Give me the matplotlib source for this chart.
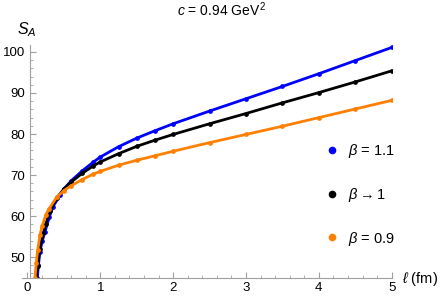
import matplotlib
matplotlib.use('agg')
import matplotlib.pyplot as plt
from matplotlib.lines import Line2D
from matplotlib.ticker import MultipleLocator

plt.rcParams['font.family'] = ['Liberation Sans', 'DejaVu Sans']
plt.rcParams['mathtext.fontset'] = 'custom'
plt.rcParams['mathtext.rm'] = 'Liberation Sans'
plt.rcParams['mathtext.it'] = 'Liberation Sans:italic'

# values (l in fm, S_A)
l_blue = [0.12, 0.135, 0.15, 0.17, 0.2, 0.24, 0.3, 0.35, 0.45, 0.5, 0.6,
          0.75, 0.9, 1.0, 1.25, 1.5, 1.75, 2.0, 2.5, 3.0, 3.5, 4.0, 4.5, 5.0]
s_blue = [41.0, 45.0, 48.0, 51.3, 53.8, 56.2, 59.8, 62.3, 65.2, 66.6, 68.6,
          71.0, 73.1, 74.4, 76.9, 79.0, 80.8, 82.5, 85.6, 88.6, 91.6, 94.7,
          97.9, 101.1]

l_black = [0.10, 0.117, 0.14, 0.17, 0.217, 0.25, 0.31, 0.4, 0.5, 0.6, 0.75,
           0.9, 1.0, 1.25, 1.5, 1.75, 2.0, 2.5, 3.0, 3.5, 4.0, 4.5, 5.0]
s_black = [41.0, 45.0, 47.9, 52.0, 55.8, 58.0, 61.3, 64.4, 66.6, 68.3, 70.4,
           72.2, 73.2, 75.2, 77.0, 78.5, 79.9, 82.5, 85.0, 87.6, 90.1, 92.7,
           95.4]

l_orange = [0.085, 0.103, 0.12, 0.14, 0.17, 0.2, 0.25, 0.29, 0.4, 0.5, 0.6,
            0.75, 0.9, 1.0, 1.25, 1.5, 1.75, 2.0, 2.5, 3.0, 3.5, 4.0, 4.5,
            5.0]
s_orange = [41.0, 45.0, 48.5, 51.7, 55.3, 57.5, 60.2, 61.6, 64.6, 66.2, 67.4,
            68.9, 70.2, 70.9, 72.4, 73.6, 74.7, 75.8, 77.9, 79.9, 81.9, 84.0,
            86.1, 88.2]

labels = [r'$\beta$ = 1.1', r'$\beta \rightarrow 1$', r'$\beta$ = 0.9']
colors = ['#0000ff', '#000000', '#ff8000']

fig = plt.figure(figsize=(4.47, 3.01), dpi=100)
# axes box in pixels: x 22..392, y 45..278 (from top)
ax = fig.add_axes([22 / 447, 23 / 301, 370 / 447, 233 / 301])
ax.set_xlim(-0.0755, 5.004)
ax.set_ylim(44.9, 101.7)

for l, s, c in zip([l_blue, l_black, l_orange],
                   [s_blue, s_black, s_orange], colors):
    ax.plot(l, s, color=c, lw=2.0, marker='o', ms=2.4)

# Mathematica style axes
grey = '#a0a0a0'
for side in ['top', 'right']:
    ax.spines[side].set_visible(False)
ax.spines['left'].set_position(('data', 0.03))
ax.spines['left'].set_color(grey)
ax.spines['bottom'].set_color(grey)
ax.xaxis.set_major_locator(MultipleLocator(1))
ax.xaxis.set_minor_locator(MultipleLocator(0.2))
ax.yaxis.set_major_locator(MultipleLocator(10))
ax.yaxis.set_minor_locator(MultipleLocator(2))
ax.tick_params(which='both', direction='in', color=grey, labelsize=9.5,
               pad=3)
ax.tick_params(which='major', length=4, width=0.8)
ax.tick_params(which='minor', length=2, width=0.6)
ax.set_yticks([50, 60, 70, 80, 90, 100])

fig.text(27 / 447, 1 - 30 / 301, r'$S_A$', fontsize=11.5, ha='center',
         va='center')
fig.text(420 / 447, 1 - 279 / 301, r'$\ell$ (fm)', fontsize=10.5,
         ha='center', va='center')
fig.suptitle(r'$c$ = 0.94 GeV$^{\,2}$', x=222 / 447, y=1 - 10 / 301,
             fontsize=10, va='center')

handles = [Line2D([], [], ls='none', marker='o', ms=4.5, color=c)
           for c in colors]
ax.legend(handles, labels, loc='center left', frameon=False,
          bbox_to_anchor=(312 / 447, 1 - 195 / 301),
          bbox_transform=fig.transFigure, fontsize=10.5,
          labelspacing=1.75, handletextpad=0.6, handlelength=1.0)

fig.savefig('out.png', dpi=100)
